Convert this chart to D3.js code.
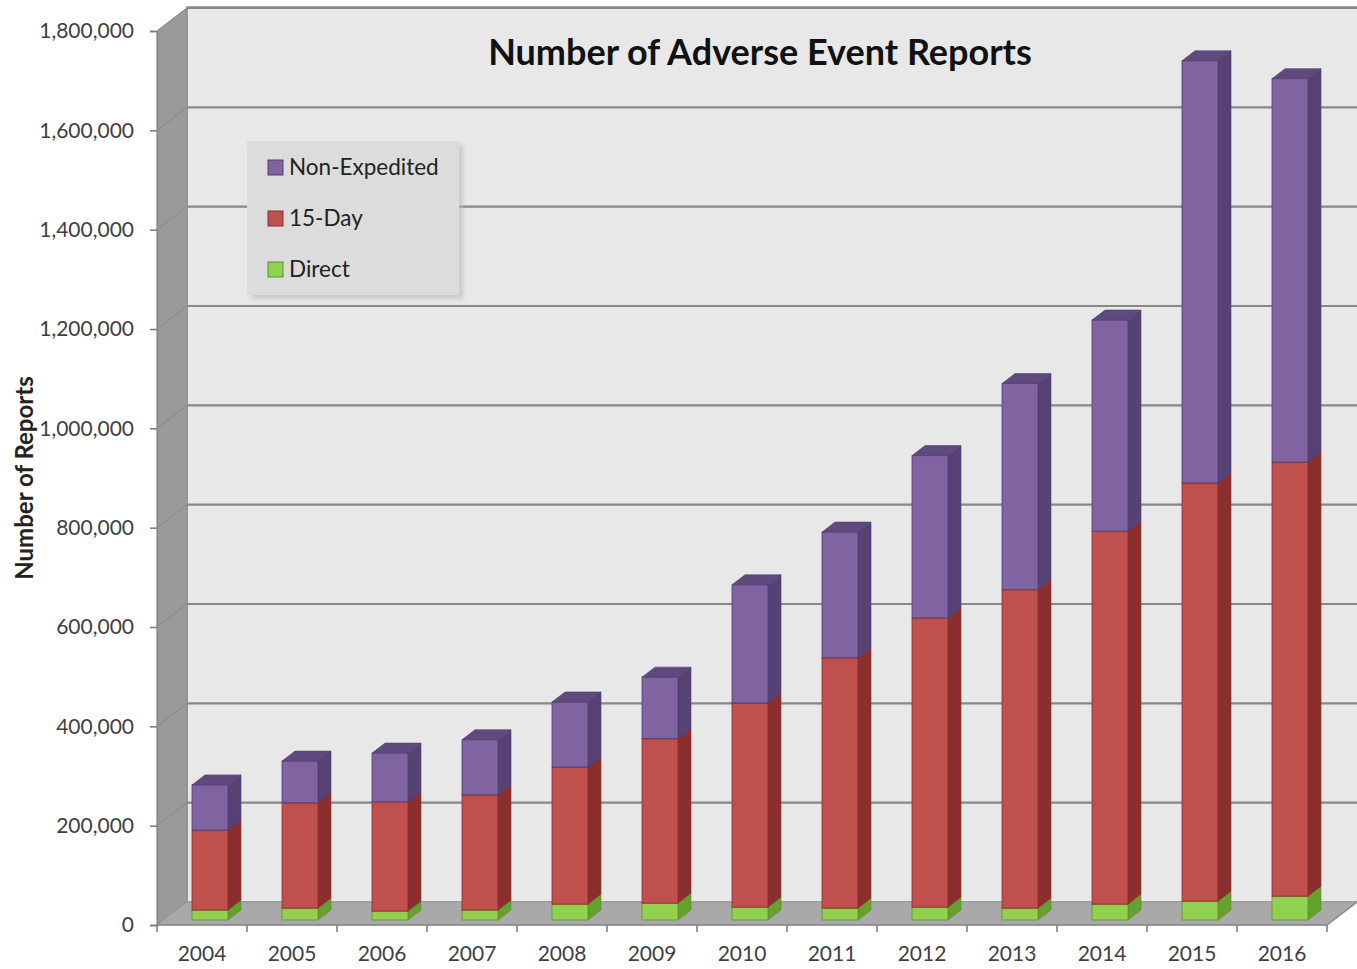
<!DOCTYPE html>
<html>
<head>
<meta charset="utf-8">
<script src="https://cdn.jsdelivr.net/npm/d3@7"></script>
<style>
  html, body { margin: 0; padding: 0; background: #ffffff; }
  svg { display: block; }
  text { font-family: Lato, "Open Sans", sans-serif; }
</style>
</head>
<body>
<svg id="chart" width="1357" height="969"></svg>
<script>
// ---------- data ----------
const years = ["2004","2005","2006","2007","2008","2009","2010","2011","2012","2013","2014","2015","2016"];
const direct       = [20000, 24000, 18000, 20000, 32000, 34000, 26000, 24000, 26000, 24000, 32000, 38000, 48000];
const fifteenDay   = [161000, 212000, 220000, 232000, 276000, 331000, 411000, 504000, 582000, 641000, 751000, 842000, 874000];
const nonExpedited = [91000, 84000, 98000, 111000, 131000, 124000, 238000, 253000, 327000, 415000, 425000, 850000, 772000];
const seriesNames  = ["Direct", "15-Day", "Non-Expedited"];
const yTicks = [0, 200000, 400000, 600000, 800000, 1000000, 1200000, 1400000, 1600000, 1800000];
const titleText = "Number of Adverse Event Reports";
const yTitle = "Number of Reports";

// ---------- styles ----------
const colors = {
  "Direct":        {front: "#92d050", side: "#64a12f", top: "#7cbf3c", stroke: "#5a8f2a"},
  "15-Day":        {front: "#c0504d", side: "#8a2f2d", top: "#9e3a37", stroke: "#8a2f2d"},
  "Non-Expedited": {front: "#8064a2", side: "#574275", top: "#5f4a80", stroke: "#523e6e"}
};

const svg = d3.select("#chart");
const W = 1357, H = 969;

// front plane geometry
const x0 = 157, x1 = 1327, yBase = 925, yTop = 31;
const depth = {dx: 30, dy: -23};
const bar = {ox: 8, oy: -5, dx: 13, dy: -10};

const x = d3.scaleBand().domain(years).range([x0, x1]).paddingInner(0.6).paddingOuter(0.3);
const y = d3.scaleLinear().domain([0, 1800000]).range([yBase, yTop]);

const rows = years.map((yr, i) => ({year: yr, "Direct": direct[i], "15-Day": fifteenDay[i], "Non-Expedited": nonExpedited[i]}));
const stacked = d3.stack().keys(seriesNames)(rows);

// ---------- walls ----------
const backTop = 7;
// back wall
svg.append("rect")
  .attr("x", x0 + depth.dx).attr("y", backTop)
  .attr("width", W - (x0 + depth.dx) + 5).attr("height", (yBase + depth.dy) - backTop)
  .attr("fill", "#e8e8e8").attr("stroke", "#8c8c8c").attr("stroke-width", 1.5);

// side wall
const sidePts = [[x0, yBase], [x0, y(1800000)], [x0 + depth.dx, y(1800000) + depth.dy], [x0 + depth.dx, yBase + depth.dy]];
svg.append("polygon").attr("points", sidePts.map(p => p.join(",")).join(" "))
  .attr("fill", "#9a9a9a").attr("stroke", "#8a8a8a").attr("stroke-width", 1);

// floor
const floorPts = [[x0, yBase], [x1, yBase], [x1 + depth.dx, yBase + depth.dy], [x0 + depth.dx, yBase + depth.dy]];
svg.append("polygon").attr("points", floorPts.map(p => p.join(",")).join(" "))
  .attr("fill", "#a9a9a9").attr("stroke", "#999").attr("stroke-width", 1);

// gridlines on back wall and side wall
const grid = svg.append("g");
yTicks.filter(t => t > 0).forEach(t => {
  grid.append("line")
    .attr("x1", x0 + depth.dx).attr("x2", W)
    .attr("y1", y(t) + depth.dy).attr("y2", y(t) + depth.dy)
    .attr("stroke", "#888888").attr("stroke-width", 2.2);
  grid.append("line")
    .attr("x1", x0).attr("x2", x0 + depth.dx)
    .attr("y1", y(t)).attr("y2", y(t) + depth.dy)
    .attr("stroke", "#8a8a8a").attr("stroke-width", 1);
});

// ---------- axes ----------
const yAxis = d3.axisLeft(y).tickValues(yTicks).tickSize(7).tickPadding(16)
  .tickFormat(d3.format(","));
const gy = svg.append("g").attr("transform", `translate(${x0},0)`).call(yAxis);
gy.select(".domain").attr("stroke", "#8a8a8a").attr("stroke-width", 1.5);
gy.selectAll(".tick line").attr("stroke", "#777").attr("stroke-width", 1.5);
gy.selectAll(".tick text").attr("fill", "#404040").style("font-size", "21px").style("font-family", "Lato, sans-serif");

const xAxis = d3.axisBottom(x).tickSize(0).tickPadding(21);
const gx = svg.append("g").attr("transform", `translate(0,${yBase})`).call(xAxis);
gx.select(".domain").remove();
gx.selectAll(".tick text").attr("fill", "#404040").style("font-size", "21px").style("font-family", "Lato, sans-serif");
// x boundary ticks and axis line
const bnds = d3.range(years.length + 1).map(i => x0 + i * x.step());
gx.append("line").attr("x1", x0).attr("x2", x1).attr("y1", 0).attr("y2", 0).attr("stroke", "#8a8a8a").attr("stroke-width", 1.5);
gx.selectAll("line.bt").data(bnds).enter().append("line").attr("class", "bt")
  .attr("x1", d => d).attr("x2", d => d).attr("y1", 0).attr("y2", 7)
  .attr("stroke", "#777").attr("stroke-width", 1.5);
svg.append("line").attr("x1", x1).attr("y1", yBase).attr("x2", x1 + depth.dx).attr("y2", yBase + depth.dy)
  .attr("stroke", "#8a8a8a").attr("stroke-width", 1.5);

// ---------- 3D bars ----------
const barsG = svg.append("g");
years.forEach((yr, i) => {
  stacked.forEach(layer => {
    const key = layer.key;
    const c = colors[key];
    const d = layer[i];
    const xl = x(yr) + bar.ox, xr = xl + x.bandwidth();
    const yb = y(d[0]) + bar.oy, yt = y(d[1]) + bar.oy;
    // side face
    barsG.append("polygon")
      .attr("points", [[xr, yb], [xr + bar.dx, yb + bar.dy], [xr + bar.dx, yt + bar.dy], [xr, yt]].map(p => p.join(",")).join(" "))
      .attr("fill", c.side).attr("stroke", c.stroke).attr("stroke-width", 0.6);
    // front face
    barsG.append("rect")
      .attr("x", xl).attr("y", yt).attr("width", xr - xl).attr("height", yb - yt)
      .attr("fill", c.front).attr("stroke", c.stroke).attr("stroke-width", 0.8);
    // top face
    barsG.append("polygon")
      .attr("points", [[xl, yt], [xr, yt], [xr + bar.dx, yt + bar.dy], [xl + bar.dx, yt + bar.dy]].map(p => p.join(",")).join(" "))
      .attr("fill", c.top).attr("stroke", c.stroke).attr("stroke-width", 0.6);
  });
});

// ---------- title ----------
svg.append("text").attr("x", 760).attr("y", 65).attr("text-anchor", "middle")
  .style("font-size", "36px").style("font-weight", "bold").attr("fill", "#111")
  .style("font-family", "Lato, sans-serif")
  .text(titleText);

// y axis title
svg.append("text")
  .attr("transform", "translate(33,478) rotate(-90)")
  .attr("text-anchor", "middle")
  .style("font-size", "24px").style("font-weight", "bold").attr("fill", "#222")
  .style("font-family", "Lato, sans-serif")
  .text(yTitle);

// ---------- legend ----------
const legendItems = ["Non-Expedited", "15-Day", "Direct"];
const lg = svg.append("g").attr("transform", "translate(247,141)");
lg.append("rect").attr("x", 4).attr("y", 4).attr("width", 212).attr("height", 154).attr("fill", "#b8b8b8").attr("opacity", 0.6)
  .style("filter", "blur(2px)");
lg.append("rect").attr("x", 0).attr("y", 0).attr("width", 212).attr("height", 154).attr("fill", "#dcdcdc");
legendItems.forEach((k, i) => {
  const cy = 26 + i * 51;
  lg.append("rect").attr("x", 21).attr("y", cy - 7).attr("width", 15).attr("height", 15)
    .attr("fill", colors[k].front).attr("stroke", colors[k].stroke).attr("stroke-width", 1);
  lg.append("text").attr("x", 42).attr("y", cy + 8)
    .style("font-size", "22.5px").attr("fill", "#222").style("font-family", "Lato, sans-serif")
    .text(k);
});
</script>
</body>
</html>
